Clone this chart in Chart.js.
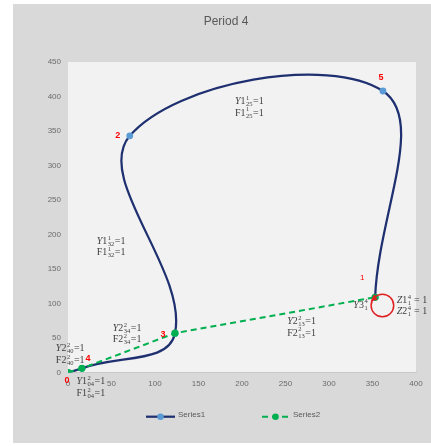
<!DOCTYPE html>
<html><head><meta charset="utf-8">
<script src="https://cdn.jsdelivr.net/npm/chart.js@4.4.1/dist/chart.umd.min.js"></script>
<style>html,body{margin:0;padding:0;background:#fff}#wrap{width:431px;height:446px;position:relative}canvas{display:block}</style>
</head><body><div id="wrap"><canvas id="c" width="431" height="446" style="width:431px;height:446px"></canvas></div>
<script>
// ---------- data ----------
const chartTitle = 'Period 4';
const seriesNames = ['Series1', 'Series2'];
const series1Nodes = ['0', '4', '3', '2', '5', '1'];
const series1X = [0, 16, 123, 71, 362, 353];
const series1Y = [0, 6, 57, 343, 408, 109];
const series2Nodes = ['0', '4', '3', '1'];
const series2X = [0, 16, 123, 353];
const series2Y = [0, 6, 57, 109];
const xTickValues = [0, 50, 100, 150, 200, 250, 300, 350, 400];
const yTickValues = [0, 50, 100, 150, 200, 250, 300, 350, 400, 450];

// math annotations: [letter, index, superscript, subscript, rhs]
const mathLabels = [
  { at: [192, 394], lines: [['Y', '1', '1', '25', '=1'], ['F', '1', '1', '25', '=1']] },
  { at: [33, 191.5], lines: [['Y', '1', '1', '32', '=1'], ['F', '1', '1', '32', '=1']] },
  { at: [51.4, 65.3], lines: [['Y', '2', '2', '34', '=1'], ['F', '2', '2', '34', '=1']] },
  { at: [-14, 35.6], lines: [['Y', '2', '2', '40', '=1'], ['F', '2', '2', '40', '=1']] },
  { at: [9.8, -12.3], lines: [['Y', '1', '2', '04', '=1'], ['F', '1', '2', '04', '=1']] },
  { at: [252, 75.2], lines: [['Y', '2', '2', '13', '=1'], ['F', '2', '2', '13', '=1']] },
  { at: [328, 99], lines: [['Y', '3', '4', '1', '']] },
  { at: [377.8, 106.2], lines: [['Z', '1', '4', '1', ' = 1'], ['Z', '2', '4', '1', ' = 1']] }
];
// red node number labels: node name, pixel offset from node
const nodeNumberOffsets = { '0': [-1, 8, true], '4': [6, -10, true], '3': [-12, 1, true], '2': [-12, 0, true], '5': [-2, -13, true], '1': [-13, -19, false] };

const pts = (xs, ys) => xs.map((x, i) => ({ x: x, y: ys[i] }));

const FONT = '"Liberation Sans", Arial, sans-serif';
const SERIF = '"Liberation Serif", "DejaVu Serif", serif';

function drawMath(ctx, x, y, p) {
  const [letter, num, sup, sub, rhs] = p;
  const base = y + 3.5;
  ctx.fillStyle = '#404040';
  ctx.textAlign = 'left';
  ctx.textBaseline = 'alphabetic';
  ctx.font = (letter === 'F' ? '' : 'italic ') + '10px ' + SERIF;
  ctx.fillText(letter, x, base); x += ctx.measureText(letter).width;
  ctx.font = '10px ' + SERIF;
  ctx.fillText(num, x, base); x += ctx.measureText(num).width;
  ctx.font = '6.5px ' + SERIF;
  const w = Math.max(ctx.measureText(sup).width, ctx.measureText(sub).width);
  ctx.fillText(sup, x + 0.5, base - 4.2);
  ctx.fillText(sub, x + 0.5, base + 2);
  x += w + 1;
  if (rhs) { ctx.font = '10px ' + SERIF; ctx.fillText(rhs, x, base); }
}

const decor = {
  id: 'decor',
  beforeDraw(chart) {
    const { ctx, chartArea: a } = chart;
    ctx.save();
    ctx.fillStyle = '#ffffff'; ctx.fillRect(0, 0, chart.width, chart.height);
    ctx.fillStyle = '#d9d9d9'; ctx.fillRect(13, 4, chart.width - 13, 439);
    ctx.fillStyle = '#f2f2f2'; ctx.fillRect(a.left, a.top, a.right - a.left, a.bottom - a.top);
    ctx.restore();
  },
  afterDraw(chart) {
    const { ctx } = chart;
    const xs = chart.scales.x, ys = chart.scales.y;
    const px = (v) => xs.getPixelForValue(v), py = (v) => ys.getPixelForValue(v);
    ctx.save();
    // title
    ctx.fillStyle = '#595959'; ctx.font = '12px ' + FONT; ctx.textAlign = 'center'; ctx.textBaseline = 'middle';
    ctx.fillText(chartTitle, 226, 21.5);
    // self-loop at node 1
    const i1 = series1Nodes.indexOf('1');
    const n1x = px(series1X[i1]), n1y = py(series1Y[i1]);
    ctx.strokeStyle = '#e02020'; ctx.lineWidth = 1.5;
    ctx.beginPath(); ctx.arc(n1x + 7.3, n1y + 8.2, 11.3, 0, Math.PI * 2); ctx.stroke();
    ctx.fillStyle = '#e02020';
    ctx.beginPath(); ctx.moveTo(n1x - 1, n1y - 3); ctx.lineTo(n1x - 4.5, n1y + 4); ctx.lineTo(n1x + 2.5, n1y + 2.5); ctx.closePath(); ctx.fill();
    // node numbers
    ctx.textAlign = 'center'; ctx.textBaseline = 'middle'; ctx.fillStyle = '#ff0000';
    series1Nodes.forEach((n, i) => {
      const o = nodeNumberOffsets[n];
      ctx.font = (o[2] ? 'bold 9px ' : '8px ') + FONT;
      ctx.fillText(n, px(series1X[i]) + o[0], py(series1Y[i]) + o[1]);
    });
    // math labels
    mathLabels.forEach(m => {
      m.lines.forEach((l, k) => drawMath(ctx, px(m.at[0]), py(m.at[1]) + k * 11.5, l));
    });
    // legend
    const ds = chart.data.datasets;
    const ly = 416.7;
    ctx.lineWidth = 2.25; ctx.strokeStyle = ds[0].borderColor;
    ctx.beginPath(); ctx.moveTo(146, ly); ctx.lineTo(175, ly); ctx.stroke();
    ctx.fillStyle = ds[0].pointBackgroundColor; ctx.beginPath(); ctx.arc(160.5, ly, 3.3, 0, Math.PI * 2); ctx.fill();
    ctx.strokeStyle = ds[1].borderColor; ctx.lineWidth = 2; ctx.setLineDash([6, 4]);
    ctx.beginPath(); ctx.moveTo(262, ly); ctx.lineTo(289, ly); ctx.stroke(); ctx.setLineDash([]);
    ctx.fillStyle = ds[1].pointBackgroundColor; ctx.beginPath(); ctx.arc(275.5, ly, 3.3, 0, Math.PI * 2); ctx.fill();
    ctx.fillStyle = '#595959'; ctx.font = '8px ' + FONT; ctx.textAlign = 'left';
    ctx.fillText(ds[0].label, 178, ly); ctx.fillText(ds[1].label, 293, ly);
    ctx.restore();
  }
};

new Chart(document.getElementById('c'), {
  type: 'scatter',
  data: {
    datasets: [
      { label: seriesNames[0], data: pts(series1X, series1Y), showLine: true, tension: 0.4, capBezierPoints: false,
        borderColor: '#1f3070', borderWidth: 2.25, pointRadius: 3.4, pointBackgroundColor: '#5b9bd5', pointBorderWidth: 0, order: 1 },
      { label: seriesNames[1], data: pts(series2X, series2Y), showLine: true, tension: 0,
        borderColor: '#00b050', borderWidth: 2, borderDash: [6, 4], pointRadius: 3.6, pointBackgroundColor: '#00b050', pointBorderWidth: 0, order: 0 }
    ]
  },
  options: {
    responsive: false, animation: false, devicePixelRatio: 1,
    layout: { padding: { left: 13, right: 15, top: 62, bottom: 53.5 } },
    plugins: { legend: { display: false }, title: { display: false }, tooltip: { enabled: false } },
    scales: {
      x: { type: 'linear', min: 0, max: 400, afterBuildTicks: s => { s.ticks = xTickValues.map(v => ({ value: v })); },
        afterFit: s => { s.height = 20; },
        grid: { display: false, drawTicks: false }, border: { display: true, color: '#c8c8c8', width: 1 },
        ticks: { padding: 6, color: '#6b6b6b', font: { family: FONT, size: 8 }, maxRotation: 0 } },
      y: { type: 'linear', min: 0, max: 450, afterBuildTicks: s => { s.ticks = yTickValues.map(v => ({ value: v })); },
        afterFit: s => { s.width = 55; },
        grid: { display: false, drawTicks: false }, border: { display: false },
        ticks: { padding: 7, color: '#6b6b6b', font: { family: FONT, size: 8 } } }
    }
  },
  plugins: [decor]
});
</script></body></html>
